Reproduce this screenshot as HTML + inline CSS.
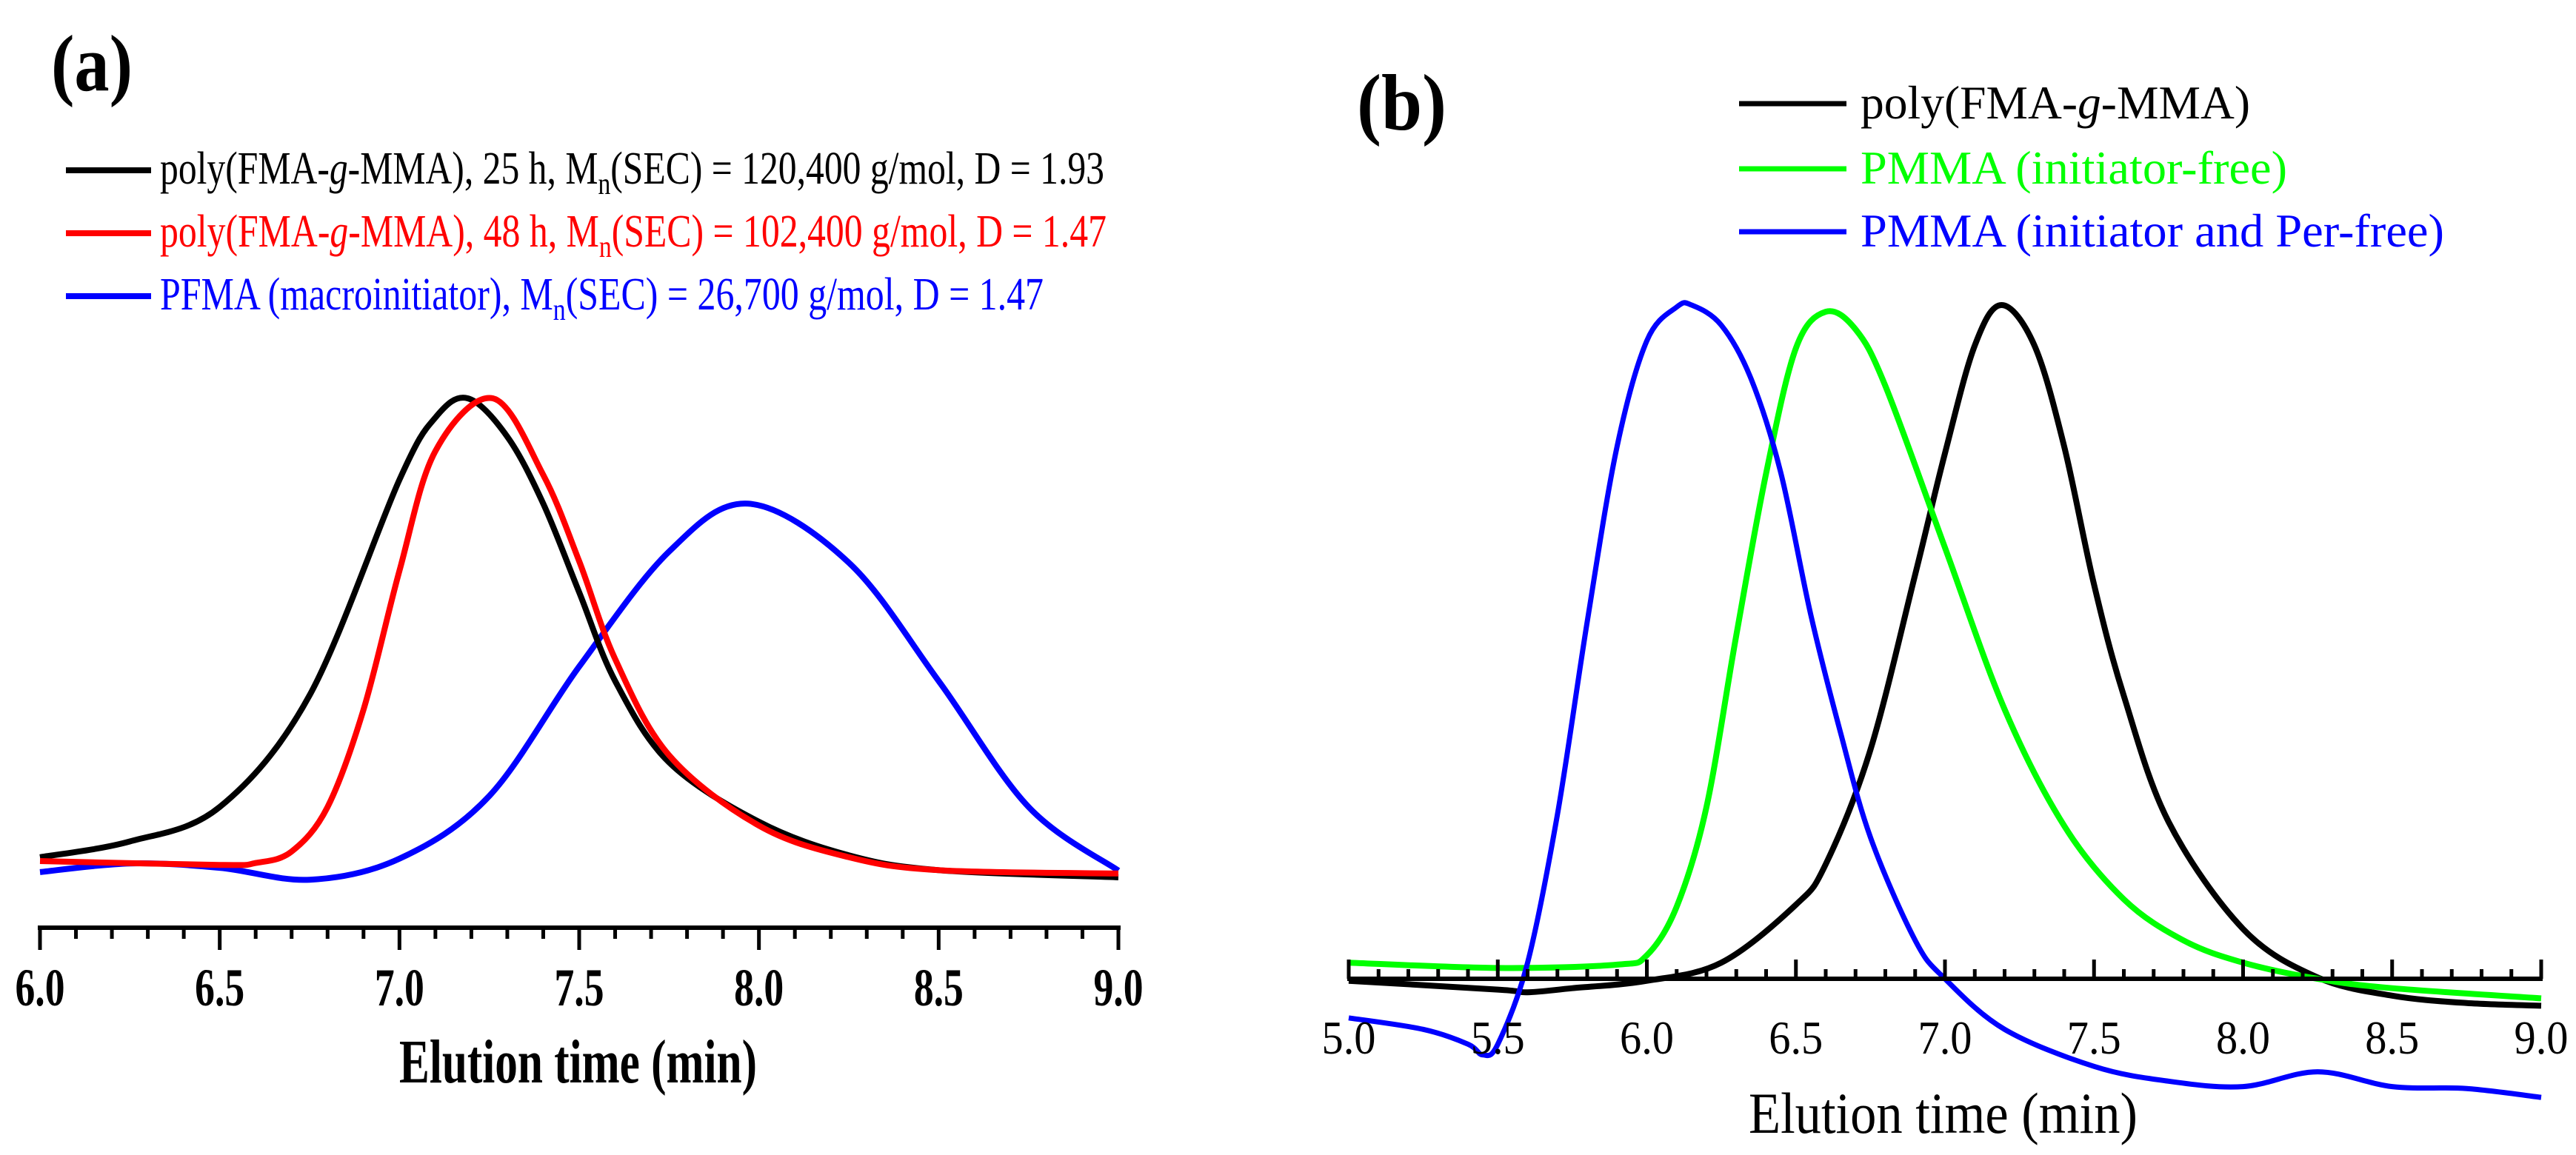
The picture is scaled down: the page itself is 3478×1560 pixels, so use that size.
<!DOCTYPE html>
<html><head><meta charset="utf-8"><style>
html,body{margin:0;padding:0;background:#fff;}
svg{display:block;}
text{font-family:"Liberation Serif",serif;}
</style></head><body>
<svg id="chart" width="3478" height="1560" viewBox="0 0 3478 1560" xmlns="http://www.w3.org/2000/svg">
  <g id="panelA">
    <text x="69" y="122" font-size="108" font-weight="bold" textLength="110" lengthAdjust="spacingAndGlyphs">(a)</text>
    <g>
      <line x1="89" y1="230" x2="204" y2="230" stroke="#000" stroke-width="8"/>
      <text x="216" y="248" font-size="62" fill="#000" textLength="1275" lengthAdjust="spacingAndGlyphs">poly(FMA-<tspan font-style="italic">g</tspan>-MMA), 25 h, M<tspan font-size="42" dy="14">n</tspan><tspan dy="-14">(SEC) = 120,400 g/mol, D = 1.93</tspan></text>
      <line x1="89" y1="315" x2="204" y2="315" stroke="#f00" stroke-width="8"/>
      <text x="216" y="333" font-size="62" fill="#f00" textLength="1278" lengthAdjust="spacingAndGlyphs">poly(FMA-<tspan font-style="italic">g</tspan>-MMA), 48 h, M<tspan font-size="42" dy="14">n</tspan><tspan dy="-14">(SEC) = 102,400 g/mol, D = 1.47</tspan></text>
      <line x1="89" y1="400" x2="204" y2="400" stroke="#00f" stroke-width="8"/>
      <text x="216" y="418" font-size="62" fill="#00f" textLength="1193" lengthAdjust="spacingAndGlyphs">PFMA (macroinitiator), M<tspan font-size="42" dy="14">n</tspan><tspan dy="-14">(SEC) = 26,700 g/mol, D = 1.47</tspan></text>
    </g>
    <g id="aCurves"></g>
    <line x1="51" y1="1253" x2="1513" y2="1253" stroke="#000" stroke-width="6"/>
    <g id="aTicks"></g>
    <text x="539" y="1462" font-size="84" font-weight="bold" textLength="483" lengthAdjust="spacingAndGlyphs">Elution time (min)</text>
  </g>
  <g id="panelB">
    <text x="1832" y="175" font-size="108" font-weight="bold" textLength="121" lengthAdjust="spacingAndGlyphs">(b)</text>
    <g>
      <line x1="2348" y1="140" x2="2493" y2="140" stroke="#000" stroke-width="7"/>
      <text x="2512" y="160" font-size="64" fill="#000" textLength="526" lengthAdjust="spacingAndGlyphs">poly(FMA-<tspan font-style="italic">g</tspan>-MMA)</text>
      <line x1="2348" y1="228" x2="2493" y2="228" stroke="#0f0" stroke-width="7"/>
      <text x="2512" y="248" font-size="64" fill="#0f0" textLength="576" lengthAdjust="spacingAndGlyphs">PMMA (initiator-free)</text>
      <line x1="2348" y1="313" x2="2493" y2="313" stroke="#00f" stroke-width="7"/>
      <text x="2512" y="333" font-size="64" fill="#00f" textLength="788" lengthAdjust="spacingAndGlyphs">PMMA (initiator and Per-free)</text>
    </g>
    <g id="bCurves"></g>
    <line x1="1819" y1="1322" x2="3433" y2="1322" stroke="#000" stroke-width="6"/>
    <g id="bTicks"></g>
    <text x="2361" y="1530" font-size="78" textLength="525" lengthAdjust="spacingAndGlyphs">Elution time (min)</text>
  </g>
</svg>
<script>
const aTickLabels = ["6.0","6.5","7.0","7.5","8.0","8.5","9.0"];
const aBlackX = [6.0,6.25,6.5,6.75,7.0,7.1,7.19,7.3,7.4,7.5,7.6,7.75,8.0,8.25,8.5,9.0];
const aBlackY = [0.042,0.075,0.147,0.38,0.83,0.96,1,0.92,0.78,0.595,0.41,0.24,0.116,0.046,0.015,0];
const aRedX = [6.0,6.5,6.6,6.7,6.8,6.9,7.0,7.1,7.26,7.4,7.5,7.6,7.75,8.0,8.25,8.5,9.0];
const aRedY = [0.034,0.026,0.03,0.054,0.147,0.35,0.64,0.89,1,0.84,0.66,0.456,0.255,0.108,0.042,0.015,0.008];
const aBlueX = [6.0,6.25,6.5,6.75,7.0,7.25,7.5,7.75,7.97,8.25,8.5,8.75,9.0];
const aBlueY = [0.011,0.029,0.02,-0.005,0.039,0.17,0.44,0.68,0.78,0.657,0.41,0.147,0.014];

const bTickLabels = ["5.0","5.5","6.0","6.5","7.0","7.5","8.0","8.5","9.0"];
const bBlackX = [5.0,5.5,5.6,5.75,6.0,6.25,6.5,6.6,6.75,6.9,7.0,7.1,7.19,7.3,7.4,7.5,7.6,7.75,8.0,8.25,8.5,8.75,9.0];
const bBlackY = [-0.003,-0.016,-0.02,-0.014,-0.003,0.024,0.11,0.17,0.34,0.6,0.78,0.94,1,0.94,0.79,0.585,0.42,0.233,0.074,0.002,-0.025,-0.036,-0.04];
const bGreenX = [5.0,5.5,5.9,6.0,6.1,6.2,6.3,6.4,6.5,6.6,6.7,6.8,7.0,7.2,7.4,7.6,7.8,8.0,8.25,8.5,9.0];
const bGreenY = [0.024,0.016,0.021,0.035,0.107,0.255,0.51,0.75,0.936,0.99,0.964,0.88,0.64,0.4,0.227,0.118,0.057,0.024,0,-0.014,-0.029];
const bBlueX = [5.0,5.25,5.4,5.45,5.5,5.6,5.7,5.8,5.9,6.0,6.1,6.15,6.25,6.35,6.45,6.55,6.65,6.75,6.9,7.0,7.2,7.5,7.75,8.0,8.25,8.5,8.75,9.0];
const bBlueY = [-0.058,-0.075,-0.097,-0.113,-0.097,0.024,0.244,0.53,0.79,0.947,0.997,1,0.97,0.89,0.75,0.54,0.365,0.21,0.057,0,-0.075,-0.13,-0.152,-0.16,-0.138,-0.16,-0.163,-0.176];

const NS = "http://www.w3.org/2000/svg";
function axisA_x(t){ return 54 + (t-6)/3*(1510-54); }
function axisA_y(v){ return 1185 - v*647; }
function axisB_x(t){ return 1821 + (t-5)/4*(3431-1821); }
function axisB_y(v){ return 1322 - v*910; }

function smoothPath(xs, ys, fx, fy){
  const p = xs.map((x,i)=>[fx(x), fy(ys[i])]);
  let d = "M"+p[0][0].toFixed(1)+","+p[0][1].toFixed(1);
  for(let i=0;i<p.length-1;i++){
    const p0=p[Math.max(0,i-1)], p1=p[i], p2=p[i+1], p3=p[Math.min(p.length-1,i+2)];
    const c1x=p1[0]+(p2[0]-p0[0])/6, c1y=p1[1]+(p2[1]-p0[1])/6;
    const c2x=p2[0]-(p3[0]-p1[0])/6, c2y=p2[1]-(p3[1]-p1[1])/6;
    d += " C"+c1x.toFixed(1)+","+c1y.toFixed(1)+" "+c2x.toFixed(1)+","+c2y.toFixed(1)+" "+p2[0].toFixed(1)+","+p2[1].toFixed(1);
  }
  return d;
}
function addCurve(g, xs, ys, fx, fy, color, name, w){
  const el = document.createElementNS(NS,"path");
  el.setAttribute("d", smoothPath(xs, ys, fx, fy));
  el.setAttribute("fill","none");
  el.setAttribute("stroke",color);
  el.setAttribute("stroke-width",w);
  el.setAttribute("stroke-linejoin","round");
  
  
  g.appendChild(el);
}
const gA = document.getElementById("aCurves");
addCurve(gA, aBlueX, aBlueY, axisA_x, axisA_y, "#00f", "curve-a-pfma", 8);
addCurve(gA, aBlackX, aBlackY, axisA_x, axisA_y, "#000", "curve-a-25h", 8);
addCurve(gA, aRedX, aRedY, axisA_x, axisA_y, "#f00", "curve-a-48h", 8);
const gB = document.getElementById("bCurves");
addCurve(gB, bBlackX, bBlackY, axisB_x, axisB_y, "#000", "curve-b-graft", 8);
addCurve(gB, bGreenX, bGreenY, axisB_x, axisB_y, "#0f0", "curve-b-initiator-free", 8);
addCurve(gB, bBlueX, bBlueY, axisB_x, axisB_y, "#00f", "curve-b-per-free", 7);

function ticks(gid, labels, fx, y0, dir, majorLen, minorLen, labelY, fs, bold, tl, start){
  const g = document.getElementById(gid);
  const n = labels.length;
  for(let i=0;i<(n-1)*5+1;i++){
    const t = start + i*0.1;
    const major = i%5===0;
    const ln = document.createElementNS(NS,"line");
    const x = fx(t);
    ln.setAttribute("x1",x); ln.setAttribute("x2",x);
    ln.setAttribute("y1",y0); ln.setAttribute("y2",y0+dir*(major?majorLen:minorLen));
    ln.setAttribute("stroke","#000"); ln.setAttribute("stroke-width",5);
    
    
    g.appendChild(ln);
  }
  labels.forEach((lab,i)=>{
    const tx = document.createElementNS(NS,"text");
    const x = fx(start + i*0.5);
    tx.setAttribute("x", x - tl/2);
    tx.setAttribute("y", labelY);
    tx.setAttribute("font-size", fs);
    if(bold) tx.setAttribute("font-weight","bold");
    tx.setAttribute("textLength", tl);
    tx.setAttribute("lengthAdjust","spacingAndGlyphs");
    tx.textContent = lab;
    
    
    g.appendChild(tx);
  });
}
ticks("aTicks", aTickLabels, axisA_x, 1253, 1, 30, 15, 1358, 72, true, 67, 6.0);
ticks("bTicks", bTickLabels, axisB_x, 1322, -1, 26, 13, 1423, 64, false, 73, 5.0);
</script>
</body></html>
